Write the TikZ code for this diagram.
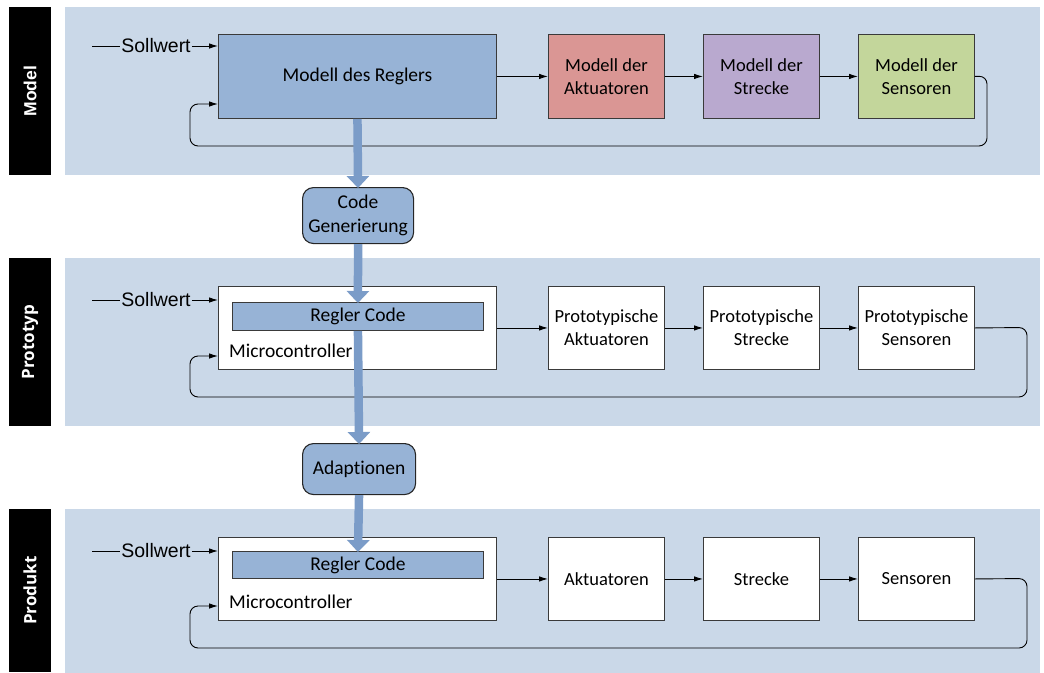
\documentclass[tikz,border=0pt]{standalone}
\usepackage{fontspec}
\setmainfont{Carlito}[Ligatures={NoCommon}]
\newfontfamily\arialf{Liberation Sans}
\newfontfamily\labf{Open Sans}
\usetikzlibrary{arrows.meta}
\definecolor{panel}{HTML}{CAD8E8}
\definecolor{regler}{HTML}{97B3D6}
\definecolor{aktu}{HTML}{DA9694}
\definecolor{strk}{HTML}{B9A9CF}
\definecolor{sens}{HTML}{C3D69B}
\definecolor{thickblue}{HTML}{7B9CC8}
\definecolor{edge}{HTML}{3A3A3A}
\tikzset{
  box/.style={draw=edge, line width=0.9pt, inner sep=0pt, align=center, anchor=north west,
    font=\fontsize{18.5}{23}\selectfont},
  bigbox/.style={box, minimum width=278pt, minimum height=84pt},
  smallbox/.style={box, minimum width=116pt, minimum height=84pt},
  bar/.style={draw=edge, line width=0.9pt, fill=regler, inner sep=0pt, anchor=north west,
    minimum width=251pt, minimum height=28pt, font=\fontsize{19.5}{23}\selectfont},
  rbox/.style={draw=black!85, line width=1.1pt, fill=regler, rounded corners=11pt, inner sep=0pt,
    anchor=north west, align=center, font=\fontsize{19.5}{23.5}\selectfont},
  lab/.style={fill=black, text=white, rotate=90, inner sep=0pt, minimum width=168pt, minimum height=42pt},
  sw/.style={fill=panel, inner sep=1pt, font=\arialf\fontsize{19.5}{22}\selectfont},
  arr/.style={line width=0.9pt, -{Latex[length=9pt,width=5.5pt]}},
  fb/.style={arr, rounded corners=8pt},
  plain/.style={line width=0.9pt},
  thickarr/.style={draw=thickblue, line width=8.5pt, -{Triangle[length=12pt,width=22pt]}, shorten >=-1pt},
  mc/.style={anchor=base west, inner sep=0pt, font=\fontsize{19.5}{23}\selectfont}
}
\begin{document}
\begin{tikzpicture}[x=1pt,y=-1pt]
\useasboundingbox (0,0) rectangle (1044,672);
% panels
\fill[panel] (65,7) rectangle (1040,175);
\fill[panel] (65,258) rectangle (1040,426);
\fill[panel] (65,509) rectangle (1040,680);
% side labels
\node[lab, font=\arialf\bfseries\fontsize{17.5}{19}\selectfont] (lm) at (30,91) {Model};
\node[lab, font=\labf\bfseries\fontsize{17}{19}\selectfont] (lp) at (30,342) {Prototyp};
\node[lab, font=\labf\bfseries\fontsize{17}{19}\selectfont, minimum width=163pt] (ld) at (30,590.5) {Produkt};

% ---------------- Model row
\node[bigbox, fill=regler, font=\fontsize{19.5}{23}\selectfont] (mr) at (218,34) {Modell des Reglers};
\node[smallbox, fill=aktu] (ma) at (548,34) {Modell der\\Aktuatoren};
\node[smallbox, fill=strk] (mst) at (703,34) {Modell der\\Strecke};
\node[smallbox, fill=sens] (mse) at (858,34) {Modell der\\Sensoren};
\coordinate (ms0) at (92,46);
\node[sw] (sw1) at (156,46) {Sollwert};
\draw[plain] (ms0) -- (sw1.west);
\draw[arr] (sw1.east) -- (sw1.east -| mr.west);
\draw[arr] (mr) -- (ma);
\draw[arr] (ma) -- (mst);
\draw[arr] (mst) -- (mse);
\draw[fb] (mse.east) -- (987,76) -- (987,146) -- (190,146) -- (190,104) -- (218,104);

% ---------------- Prototyp row
\node[bigbox, fill=white, minimum height=83pt] (pm) at (218,286) {};
\node[bar] (pr) at (232,302) {Regler Code};
\node[mc] (pmt) at (229,357) {Microcontroller};
\node[smallbox, fill=white, minimum height=83pt] (pa) at (548,286) {Prototypische\\Aktuatoren};
\node[smallbox, fill=white, minimum height=83pt] (pst) at (703,286) {Prototypische\\Strecke};
\node[smallbox, fill=white, minimum height=83pt] (pse) at (858,286) {Prototypische\\Sensoren};
\coordinate (ps0) at (92,300);
\node[sw] (sw2) at (156,300) {Sollwert};
\draw[plain] (ps0) -- (sw2.west);
\draw[arr] (sw2.east) -- (sw2.east -| pm.west);
\draw[arr] (pm) -- (pa);
\draw[arr] (pa) -- (pst);
\draw[arr] (pst) -- (pse);
\draw[fb] (pse.east) -- (1027,327.5) -- (1027,397) -- (190,397) -- (190,356) -- (218,356);

% ---------------- Produkt row
\node[bigbox, fill=white, minimum height=83pt] (dm) at (218,537) {};
\node[bar, minimum height=27pt] (dr) at (232,551) {Regler Code};
\node[mc] (dmt) at (229,608) {Microcontroller};
\node[smallbox, fill=white, minimum height=83pt] (da) at (548,537) {Aktuatoren};
\node[smallbox, fill=white, minimum height=83pt] (dst) at (703,537) {Strecke};
\node[smallbox, fill=white, minimum height=83pt] (dse) at (858,537) {Sensoren};
\coordinate (ds0) at (92,551);
\node[sw] (sw3) at (156,551) {Sollwert};
\draw[plain] (ds0) -- (sw3.west);
\draw[arr] (sw3.east) -- (sw3.east -| dm.west);
\draw[arr] (dm) -- (da);
\draw[arr] (da) -- (dst);
\draw[arr] (dst) -- (dse);
\draw[fb] (dse.east) -- (1027,578.5) -- (1027,648) -- (190,648) -- (190,606) -- (218,606);

% ---------------- transitions
\node[rbox, minimum width=111pt, minimum height=56pt] (cg) at (302,187) {Code\\Generierung};
\node[rbox, minimum width=113pt, minimum height=51pt] (ad) at (302,443) {Adaptionen};
\draw[thickarr] (mr.south) -- (cg.north);
\draw[thickarr] (cg.south) -- (pr.north);
\draw[thickarr] (pr.south) -- (ad.north);
\draw[thickarr] (ad.south) -- (dr.north);
\end{tikzpicture}
\end{document}
